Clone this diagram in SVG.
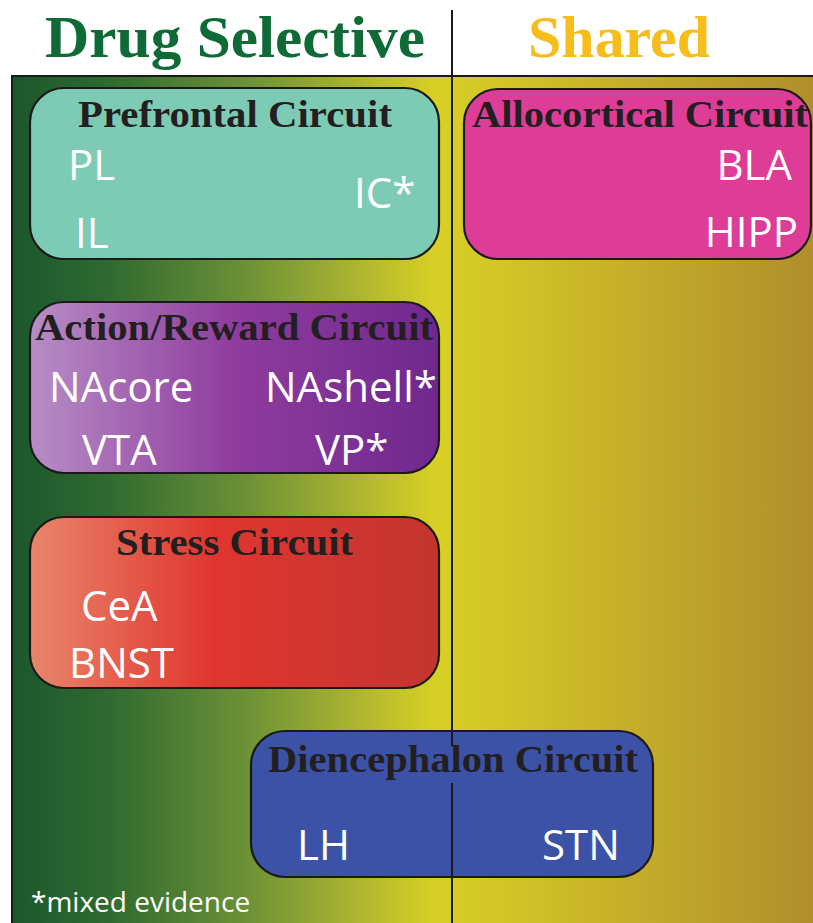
<svg xmlns="http://www.w3.org/2000/svg" width="813" height="923" viewBox="0 0 813 923">
<defs>
<linearGradient id="bg" gradientUnits="userSpaceOnUse" x1="12" y1="0" x2="813" y2="0">
<stop offset="0" stop-color="#1c572d"/>
<stop offset="0.12" stop-color="#2f6a30"/>
<stop offset="0.3" stop-color="#6f9336"/>
<stop offset="0.45" stop-color="#b6ba2d"/>
<stop offset="0.53" stop-color="#d8d024"/>
<stop offset="0.62" stop-color="#d2c427"/>
<stop offset="1" stop-color="#b08e2c"/>
</linearGradient>
<linearGradient id="purple" x1="0" y1="0" x2="1" y2="0">
<stop offset="0" stop-color="#b78dc5"/>
<stop offset="0.5" stop-color="#8f3c9e"/>
<stop offset="1" stop-color="#70288e"/>
</linearGradient>
<linearGradient id="red" x1="0" y1="0" x2="1" y2="0">
<stop offset="0" stop-color="#e8866b"/>
<stop offset="0.45" stop-color="#e0352f"/>
<stop offset="1" stop-color="#c33530"/>
</linearGradient>
<style>
.box{stroke:#1a1a1a;stroke-width:2.2}
.hdr{font-family:"Liberation Serif","Times New Roman",serif;font-weight:bold;font-size:38px;fill:#231f20}
.item{font-family:"Open Sans","Noto Sans",sans-serif;font-size:42px;fill:#ffffff}
.title{font-family:"Liberation Serif","Times New Roman",serif;font-weight:bold;font-size:60px}
.divider{stroke:#1a1a1a;stroke-width:2;fill:none}
</style>
</defs>
<rect x="0" y="0" width="813" height="923" fill="#ffffff"/>
<rect x="12" y="76" width="803" height="849" fill="url(#bg)"/>
<path d="M12,923 V76 H813" class="divider" stroke-width="2.5"/>
<text class="title" x="45" y="57" fill="#0e6b36" textLength="380" lengthAdjust="spacingAndGlyphs">Drug Selective</text>
<text class="title" x="528" y="57" fill="#f6bd1b" textLength="182" lengthAdjust="spacingAndGlyphs">Shared</text>
<g id="connectors">
<line class="divider" x1="452" y1="10" x2="452" y2="923"/>
</g>
<g id="prefrontal">
<rect class="box" x="30" y="88" width="409" height="171" rx="34" fill="#7ecbb5"/>
<text class="hdr" x="78" y="127" textLength="314" lengthAdjust="spacingAndGlyphs">Prefrontal Circuit</text>
<text class="item" x="68" y="180">PL</text>
<text class="item" x="75" y="248">IL</text>
<text class="item" x="354" y="208">IC*</text>
</g>
<g id="allocortical">
<rect class="box" x="464" y="89" width="347" height="170" rx="34" fill="#dd3c97"/>
<text class="hdr" x="472" y="127" textLength="336" lengthAdjust="spacingAndGlyphs">Allocortical Circuit</text>
<text class="item" x="792" y="180" text-anchor="end">BLA</text>
<text class="item" x="798" y="247" text-anchor="end">HIPP</text>
</g>
<g id="action-reward">
<rect class="box" x="30" y="302" width="409" height="171" rx="34" fill="url(#purple)"/>
<text class="hdr" x="35" y="340" textLength="398" lengthAdjust="spacingAndGlyphs">Action/Reward Circuit</text>
<text class="item" x="49" y="402">NAcore</text>
<text class="item" x="265" y="402">NAshell*</text>
<text class="item" x="82" y="465">VTA</text>
<text class="item" x="315" y="465">VP*</text>
</g>
<g id="stress">
<rect class="box" x="30" y="517" width="409" height="171" rx="34" fill="url(#red)"/>
<text class="hdr" x="116" y="555" textLength="237" lengthAdjust="spacingAndGlyphs">Stress Circuit</text>
<text class="item" x="81" y="621">CeA</text>
<text class="item" x="69" y="678">BNST</text>
</g>
<g id="diencephalon">
<rect class="box" x="251" y="731" width="402" height="146" rx="34" fill="#3b52a6"/>
<line class="divider" x1="452" y1="731" x2="452" y2="746"/>
<line class="divider" x1="452" y1="783" x2="452" y2="877"/>
<text class="hdr" x="268" y="772" textLength="370" lengthAdjust="spacingAndGlyphs">Diencephalon Circuit</text>
<text class="item" x="297" y="860">LH</text>
<text class="item" x="542" y="860">STN</text>
</g>
<text x="31" y="912" font-family="'Open Sans','Noto Sans',sans-serif" font-size="28" fill="#ffffff">*mixed evidence</text>
</svg>
